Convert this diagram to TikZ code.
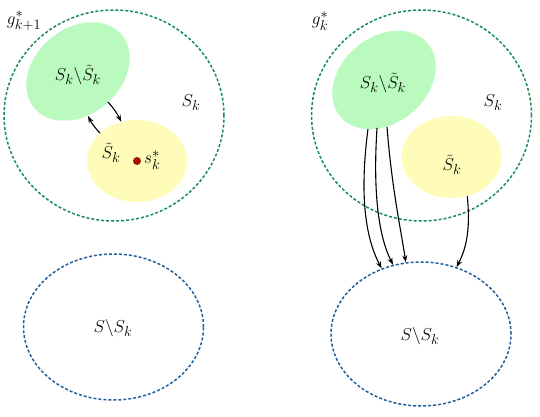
\documentclass[tikz,border=0pt]{standalone}
\usetikzlibrary{shapes.geometric,arrows.meta}
\definecolor{dgreen}{RGB}{25,140,95}
\definecolor{dblue}{RGB}{35,95,155}
\definecolor{lgreen}{RGB}{186,250,190}
\definecolor{lyellow}{RGB}{255,252,186}
\definecolor{dred}{RGB}{160,20,0}
\begin{document}
\begin{tikzpicture}[x=1pt,y=-1pt,
  lbl/.style={font=\fontsize{19}{22}\selectfont, inner sep=0pt},
  outer/.style={ellipse, draw=dgreen, line width=1.5pt, dash pattern=on 3pt off 2pt, inner sep=0pt},
  rest/.style={ellipse, draw=dblue, line width=1.5pt, dash pattern=on 3pt off 2pt, inner sep=0pt},
  gset/.style={ellipse, fill=lgreen, inner sep=0pt, minimum width=114pt, minimum height=86pt, rotate=40},
  yset/.style={ellipse, fill=lyellow, inner sep=0pt, minimum width=100pt, minimum height=82pt},
  arr/.style={line width=1.1pt, -{Stealth[length=7pt,width=5pt]}}]
\useasboundingbox (0,0) rectangle (540,417);
% left panel
\node[outer, minimum width=220pt, minimum height=211pt] (cl) at (114,115.5) {};
\node[gset] (gl) at (78,71.5) {};
\node[yset] (yl) at (137,161) {};
\node[lbl] at (78,75) {$S_k\backslash\tilde{S}_k$};
\node[lbl] at (191,103) {$S_k$};
\node[lbl] at (111,153) {$\tilde{S}_k$};
\node[lbl] at (24,21) {$g^*_{k+1}$};
\node[circle, fill=dred, inner sep=0pt, minimum size=8pt] (sk) at (137,161) {};
\node[lbl, anchor=west] at (144,160) {$s^*_k$};
\node[rest, minimum width=180pt, minimum height=146pt] (bl) at (113.5,327) {};
\node[lbl] at (113,328) {$S\backslash S_k$};
\coordinate (a1) at (108,102);
\coordinate (a2) at (88,116);
\draw[arr] (a1) to[bend left=8] (yl.112);
\draw[arr] (yl.143) to[bend left=8] (a2);
% right panel
\node[outer, minimum width=220pt, minimum height=211pt] (cr) at (421.5,115.5) {};
\node[gset] (gr) at (384,80) {};
\node[yset] (yr) at (451.5,157) {};
\node[lbl] at (383,83) {$S_k\backslash\tilde{S}_k$};
\node[lbl] at (493,103) {$S_k$};
\node[lbl] at (452,165) {$\tilde{S}_k$};
\node[lbl] at (320,21) {$g^*_k$};
\node[rest, minimum width=180pt, minimum height=144pt] (br) at (421,334) {};
\node[lbl] at (420,336) {$S\backslash S_k$};
\coordinate (b1) at (368,129);
\coordinate (b2) at (377,128);
\coordinate (b3) at (387,127);
\draw[arr] (b1) .. controls (360,190) and (364,235) .. (br.121);
\draw[arr] (b2) .. controls (373,190) and (378,235) .. (br.112);
\draw[arr] (b3) .. controls (392,190) and (401,230) .. (br.102);
\draw[arr] (yr.292) .. controls (470,225) and (468,245) .. (br.62);
\end{tikzpicture}
\end{document}
